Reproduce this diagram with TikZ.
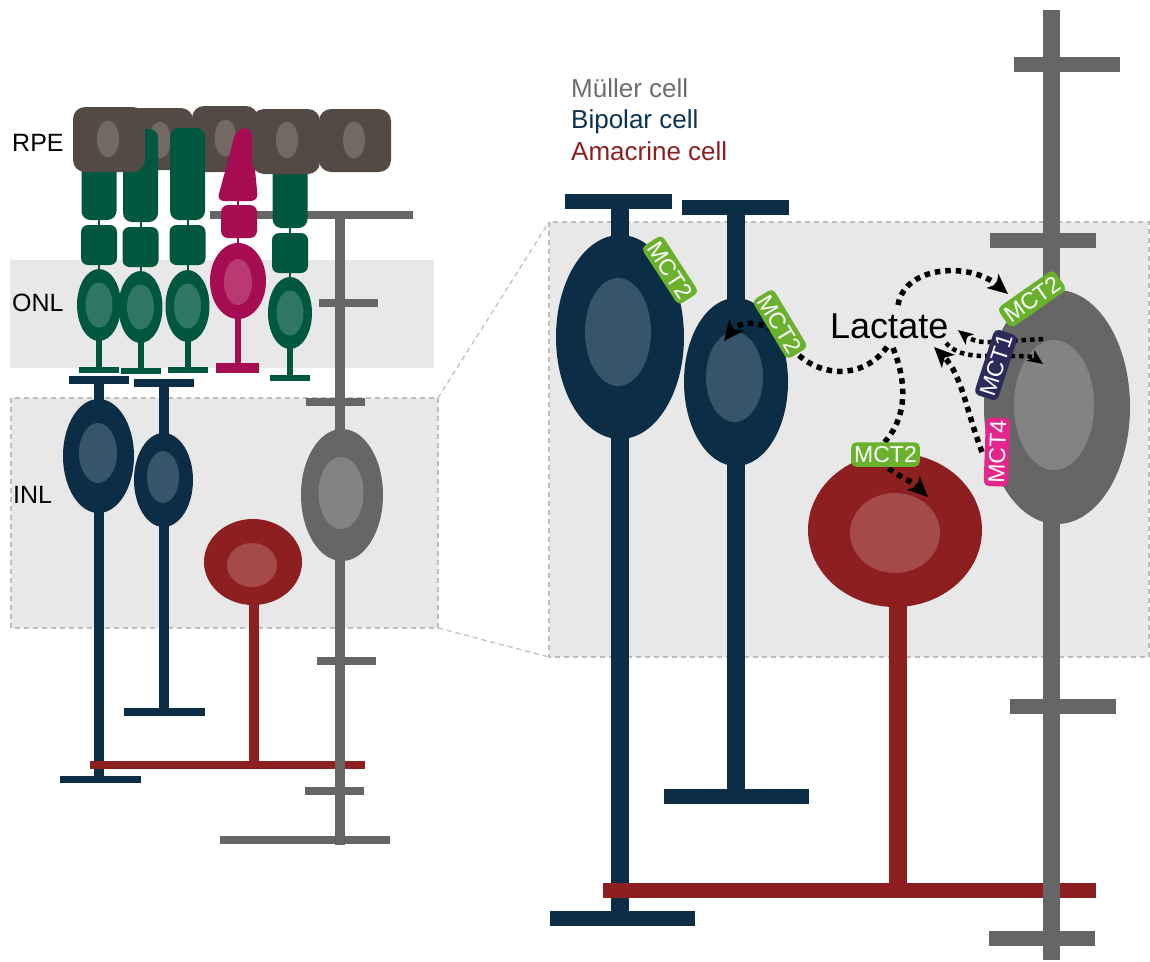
\documentclass[tikz,border=0pt]{standalone}
\usepackage{fontspec}
\setmainfont{Liberation Sans}
\usetikzlibrary{arrows.meta}

\definecolor{bipolar}{HTML}{0B2D45}
\definecolor{bipolarin}{HTML}{365568}
\definecolor{amacrine}{HTML}{8E1F20}
\definecolor{amacrinein}{HTML}{A44A4A}
\definecolor{muller}{HTML}{666666}
\definecolor{mullerin}{HTML}{838383}
\definecolor{rpe}{HTML}{544A45}
\definecolor{rpein}{HTML}{736862}
\definecolor{rod}{HTML}{00573F}
\definecolor{rodin}{HTML}{2F7663}
\definecolor{cone}{HTML}{A50C52}
\definecolor{conein}{HTML}{B83A70}
\definecolor{layerfill}{HTML}{E8E8E8}
\definecolor{framegray}{HTML}{BDBDBD}
\definecolor{mcttwo}{HTML}{6AB22E}
\definecolor{mctone}{HTML}{2C2B5C}
\definecolor{mctfour}{HTML}{E3268C}
\definecolor{mullertext}{HTML}{6D6D6D}
\definecolor{bipolartext}{HTML}{0B3352}

\tikzset{
  zoomframe/.style={draw=framegray, line width=1.2pt, dash pattern=on 5pt off 4pt},
  layerlabel/.style={anchor=base west, inner sep=0pt, font=\fontsize{25}{25}\selectfont},
  legendtext/.style={anchor=base west, inner sep=0pt, font=\fontsize{26}{26}\selectfont},
  mct/.style={rounded corners=5pt, text=white, font=\fontsize{23}{23}\selectfont,
    inner xsep=3pt, inner ysep=4pt, text height=16.5pt, text depth=0pt},
  flux/.style={line width=5.5pt, dash pattern=on 5.5pt off 5pt,
    -{Stealth[length=20pt,width=18pt,inset=5pt]}},
  fluxsmall/.style={line width=4.5pt, dash pattern=on 4.5pt off 4pt,
    -{Stealth[length=15pt,width=13pt,inset=4pt]}},
}

% rod photoreceptor: centre x, outer top, outer bottom, inner top, nucleus y, foot top
\newcommand{\rodcell}[6]{%
  \draw[rod, line width=2pt] (#1,#3) -- (#1,#4);
  \fill[rod, rounded corners=9pt] ({#1-17.5},#2) rectangle ({#1+17.5},#3);
  \fill[rod, rounded corners=7pt] ({#1-18},#4) rectangle ({#1+18},{#4+40});
  \draw[rod, line width=2pt] (#1,{#4+40}) -- (#1,{#5-36});
  \fill[rod] ({#1-3},#5) rectangle ({#1+3},{#6+1});
  \fill[rod] ({#1-20},#6) rectangle ({#1+20},{#6+6});
  \fill[rod] (#1,#5) ellipse [x radius=22, y radius=36];
  \fill[rodin] (#1,#5) ellipse [x radius=13.5, y radius=22.5];
}

% RPE cell: corners and nucleus centre
\newcommand{\rpecell}[6]{%
  \fill[rpe, rounded corners=12pt] (#1,#2) rectangle (#3,#4);
  \fill[rpein] (#5,#6) ellipse [x radius=11, y radius=18.5];
}

\begin{document}
\begin{tikzpicture}[x=1pt, y=-1pt]
\useasboundingbox (0,0) rectangle (1150,961);

% ---------- layers and zoom frames ----------
\fill[layerfill] (10,260) rectangle (434,368);
\coordinate (inlTL) at (11,398);
\coordinate (inlBR) at (438,628);
\coordinate (inlTR) at (438,398);
\coordinate (inlBRc) at (438,628);
\coordinate (zoomTL) at (549,222);
\coordinate (zoomBL) at (549,657);
\coordinate (zoomBR) at (1149,657);
\filldraw[fill=layerfill, zoomframe] (inlTL) rectangle (inlBR);
\filldraw[fill=layerfill, zoomframe] (zoomTL) rectangle (zoomBR);
\draw[zoomframe] (inlTR) -- (zoomTL);
\draw[zoomframe] (inlBRc) -- (zoomBL);

% ---------- left: bipolar cells ----------
\fill[bipolar] (69,376) rectangle (129,384);
\fill[bipolar] (94,376) rectangle (104,783);
\fill[bipolar] (60,776) rectangle (141,783);
\fill[bipolar] (98.5,456) ellipse [x radius=35.5, y radius=57];
\fill[bipolarin] (98,453) ellipse [x radius=19, y radius=30];

\fill[bipolar] (134,379) rectangle (194,387);
\fill[bipolar] (159,379) rectangle (169,716);
\fill[bipolar] (124,708) rectangle (205,716);
\fill[bipolar] (163.5,480) ellipse [x radius=29.5, y radius=47];
\fill[bipolarin] (163,477) ellipse [x radius=16, y radius=26];

% ---------- left: amacrine cell ----------
\fill[amacrine] (249,562) rectangle (259,769);
\fill[amacrine] (90,761) rectangle (365,769);
\fill[amacrine] (253,562) ellipse [x radius=49, y radius=43];
\fill[amacrinein] (252,565) ellipse [x radius=25, y radius=22];

% ---------- left: Mueller cell ----------
\fill[muller] (335,211) rectangle (345,845);
\fill[muller] (210,211) rectangle (413,219);
\fill[muller] (319,299) rectangle (378,307);
\fill[muller] (306,398) rectangle (365,406);
\fill[muller] (317,657) rectangle (376,665);
\fill[muller] (305,787) rectangle (364,795);
\fill[muller] (220,836) rectangle (390,844);
\fill[muller] (342,495) ellipse [x radius=41, y radius=66];
\fill[mullerin] (341,493) ellipse [x radius=22.5, y radius=36];

% ---------- RPE (back row) ----------
\rpecell{128}{108}{193}{170}{160}{140}
\rpecell{192}{106}{258}{172}{225.5}{138}
\rpecell{319}{109}{391}{172}{354}{140}

% ---------- photoreceptors ----------
\rodcell{99}{150}{220}{225}{305}{367}
\rodcell{140.5}{129}{222}{227}{307}{368}
\rodcell{187.5}{128}{220}{225}{306}{367}
\rodcell{290}{150}{228}{233}{313}{375}

% cone
\draw[cone, line width=2pt] (238,198) -- (238,206);
\draw[cone, line width=2pt] (238,236) -- (238,245);
\fill[cone, rounded corners=7pt] (236,130) -- (251,127) -- (258,201) -- (217,201) -- (226,168) -- cycle;
\fill[cone, rounded corners=7pt] (221,205) rectangle (257,238);
\fill[cone] (235,300) rectangle (241,364);
\fill[cone] (216,363) rectangle (259,373);
\fill[cone] (238,281) ellipse [x radius=28, y radius=38];
\fill[conein] (238,282) ellipse [x radius=14, y radius=23];

% ---------- RPE (front cells) ----------
\rpecell{73}{107}{145}{172}{108}{139}
\rpecell{252}{109}{320}{174}{287}{140}

% ---------- left labels ----------
\node[layerlabel] (rpelabel) at (12,151) {RPE};
\node[layerlabel] (onllabel) at (12,311) {ONL};
\node[layerlabel] (inllabel) at (13,503) {INL};

% ---------- legend ----------
\node[legendtext, text=mullertext] (legM) at (571,97) {Müller cell};
\node[legendtext, text=bipolartext] (legB) at (571,128.5) {Bipolar cell};
\node[legendtext, text=amacrine] (legA) at (571,160) {Amacrine cell};

% ---------- right: bipolar cells ----------
\fill[bipolar] (565,194) rectangle (672,209);
\fill[bipolar] (611,194) rectangle (629,926);
\fill[bipolar] (550,911) rectangle (695,926);
\fill[bipolar] (620,337) ellipse [x radius=64, y radius=102];
\fill[bipolarin] (618,332) ellipse [x radius=33, y radius=54];

\fill[bipolar] (682,200) rectangle (789,215);
\fill[bipolar] (727,200) rectangle (745,804);
\fill[bipolar] (664,789) rectangle (809,804);
\fill[bipolar] (736,382) ellipse [x radius=52, y radius=84];
\fill[bipolarin] (734.5,377) ellipse [x radius=28.5, y radius=45];

% ---------- right: amacrine cell ----------
\fill[amacrine] (889,530) rectangle (907,898);
\fill[amacrine] (603,883) rectangle (1096,898);
\fill[amacrine] (895,530) ellipse [x radius=87, y radius=77];
\fill[amacrinein] (895,533) ellipse [x radius=45, y radius=40];

% ---------- right: Mueller cell ----------
\fill[muller] (1043,10) rectangle (1060,960);
\fill[muller] (1014,57) rectangle (1120,72);
\fill[muller] (990,233) rectangle (1096,248);
\fill[muller] (1010,699) rectangle (1116,714);
\fill[muller] (989,931) rectangle (1095,946);
\fill[muller] (1057,407) ellipse [x radius=73, y radius=117];
\fill[mullerin] (1054,405) ellipse [x radius=40, y radius=65];

% ---------- lactate fluxes ----------
\coordinate (srcA) at (887,347);
\coordinate (dstA) at (724,341);
\coordinate (srcB) at (893,348);
\coordinate (dstB) at (928,497);
\coordinate (srcC) at (898,305);
\coordinate (dstC) at (1008,294);
\coordinate (srcD) at (1043,339);
\coordinate (dstD) at (958,330);
\coordinate (srcE) at (946,343);
\coordinate (dstE) at (1043,364);
\coordinate (srcF) at (982,452);
\coordinate (dstF) at (934,347);

\draw[flux] (srcA) .. controls (862,382) and (812,378) .. (788,343)
  .. controls (772,322) and (742,318) .. (dstA);
\draw[flux] (srcB) .. controls (912,395) and (902,430) .. (874,452)
  .. controls (885,472) and (908,478) .. (dstB);
\draw[flux] (srcC) .. controls (905,265) and (970,262) .. (dstC);
\draw[fluxsmall] (srcD) -- (990,342) .. controls (978,343) and (968,338) .. (dstD);
\draw[fluxsmall] (srcE) .. controls (958,356) and (975,356) .. (990,356)
  -- (1025,356) .. controls (1033,357) .. (dstE);
\draw[flux] (srcF) .. controls (966,410) and (962,375) .. (dstF);

% ---------- transporters ----------
\node[mct, fill=mcttwo, rotate=-57] (mctBa) at (670,270) {MCT2};
\node[mct, fill=mcttwo, rotate=-59] (mctBb) at (780,324) {MCT2};
\node[mct, fill=mcttwo] (mctA) at (885.5,454.5) {MCT2};
\node[mct, fill=mcttwo, rotate=35] (mctM) at (1032,299) {MCT2};
\node[mct, fill=mctone, rotate=72] (mctOne) at (996,365) {MCT1};
\node[mct, fill=mctfour, rotate=88] (mctFour) at (997,452) {MCT4};

\node[anchor=base west, inner sep=0pt, font=\fontsize{36}{36}\selectfont] (lactate) at (830,338) {Lactate};

\end{tikzpicture}
\end{document}
